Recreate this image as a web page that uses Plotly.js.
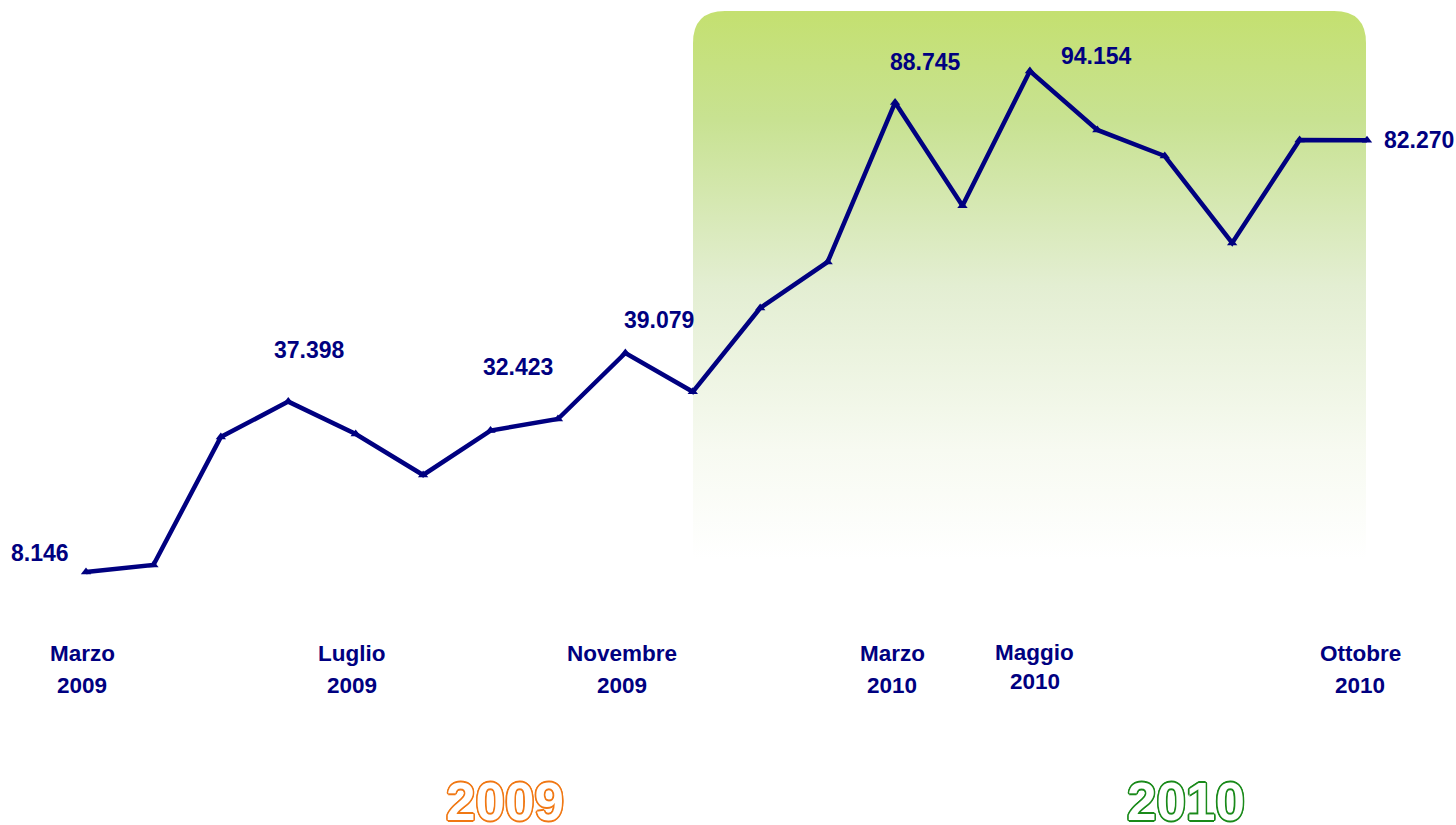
<!DOCTYPE html>
<html>
<head>
<meta charset="utf-8">
<script src="https://cdn.plot.ly/plotly-3.0.1.min.js"></script>
<style>html,body{margin:0;padding:0;background:#fff;}#chart{width:1456px;height:825px;}</style>
</head>
<body>
<div id="chart"></div>
<script>
// ---- data ----
const months = ["Mar 2009","Apr 2009","Mag 2009","Giu 2009","Lug 2009","Ago 2009","Set 2009","Ott 2009","Nov 2009","Dic 2009",
                "Gen 2010","Feb 2010","Mar 2010","Apr 2010","Mag 2010","Giu 2010","Lug 2010","Ago 2010","Set 2010","Ott 2010"];
const values = [8146, 9350, 31320, 37398, 31840, 24800, 32423, 34410, 45740, 39079,
                53470, 61370, 88745, 71010, 94154, 84030, 79560, 64630, 82310, 82270];
const labelledIdx = [0, 3, 6, 9, 12, 14, 19];
const tickIdx = [0, 4, 8, 12, 14, 19];
const tickMonth = ["Marzo", "Luglio", "Novembre", "Marzo", "Maggio", "Ottobre"];
const tickYear = ["2009", "2009", "2009", "2010", "2010", "2010"];
const yearLabels = ["2009", "2010"];

// ---- styling ----
const navy = "#000080";
const fontFam = "Liberation Sans, Arial, sans-serif";
const labelShift = {0:[-46,19], 3:[21,52], 6:[27,64], 9:[-34,72], 12:[30,41], 14:[67,15], 19:[52,0]};
const tickShift = [[-4,653,685],[-4,653,685],[-3,653,685],[-3,653,685],[5,652,681],[-7,653,685]];

function fmt(v){ return String(v).replace(/\B(?=(\d{3})+(?!\d))/g, "."); }

const annotations = [];
labelledIdx.forEach(i => {
  const s = labelShift[i];
  annotations.push({x: months[i], y: values[i], xref:'x', yref:'y', text: fmt(values[i]), showarrow:false,
    xanchor:'center', yanchor:'middle',
    xshift: s[0], yshift: s[1], font:{family: fontFam, size: 23, color: navy, weight: 'bold'}});
});
tickIdx.forEach((i, k) => {
  const s = tickShift[k];
  annotations.push({x: months[i], y: 1 - s[1]/825, xref:'x', yref:'paper', text: tickMonth[k], showarrow:false,
    xshift: s[0], xanchor:'center', yanchor:'middle', font:{family: fontFam, size: 22.5, color: navy, weight: 'bold'}});
  annotations.push({x: months[i], y: 1 - s[2]/825, xref:'x', yref:'paper', text: tickYear[k], showarrow:false,
    xshift: s[0], xanchor:'center', yanchor:'middle', font:{family: fontFam, size: 22.5, color: navy, weight: 'bold'}});
});
function outline(c){
  const d = 1.6;
  return [[d,0],[-d,0],[0,d],[0,-d],[1.2,1.2],[-1.2,-1.2],[1.2,-1.2],[-1.2,1.2]].map(p => p[0]+"px "+p[1]+"px 0 "+c).join(", ");
}
const yearCols = ["#f07814", "#1a8a1a"];
const yearX = [505/1456, 1186/1456];
yearLabels.forEach((t, k) => {
  annotations.push({x: yearX[k], y: 1 - 801/825, xref:'paper', yref:'paper', text: t, showarrow:false,
    xanchor:'center', yanchor:'middle',
    font:{family: fontFam, size: 53, color: '#ffffff', weight: 'bold', shadow: outline(yearCols[k])}});
});

const svg = '<svg xmlns="http://www.w3.org/2000/svg" width="673" height="549" viewBox="0 0 673 549" preserveAspectRatio="none">' +
  '<defs><linearGradient id="g" x1="0" y1="0" x2="0" y2="1">' +
  '<stop offset="0" stop-color="#c4e070"/><stop offset="0.2" stop-color="#c8e292"/>' +
  '<stop offset="0.5" stop-color="#e3eed2"/><stop offset="0.8" stop-color="#f7faf1"/><stop offset="1" stop-color="#ffffff"/>' +
  '</linearGradient></defs>' +
  '<path d="M0,549 V32 Q0,0 32,0 H641 Q673,0 673,32 V549 Z" fill="url(#g)"/></svg>';

const layout = {
  width: 1456, height: 825,
  margin: {l:0, r:0, t:0, b:0},
  paper_bgcolor: '#ffffff', plot_bgcolor: 'rgba(0,0,0,0)',
  showlegend: false,
  xaxis: {type:'category', categoryarray: months, range: [-1.2756, 20.32], visible: false, fixedrange: true},
  yaxis: {range: [-35287, 106343], visible: false, fixedrange: true},
  images: [{
    source: 'data:image/svg+xml;charset=utf-8,' + encodeURIComponent(svg),
    xref: 'paper', yref: 'paper', x: 693/1456, y: 1 - 11/825, sizex: 673/1456, sizey: 549/825,
    xanchor: 'left', yanchor: 'top', sizing: 'stretch', layer: 'below'
  }],
  annotations: annotations
};

const trace = {
  x: months, y: values, type: 'scatter', mode: 'lines+markers',
  line: {color: navy, width: 4.5},
  marker: {symbol: 'triangle-up', size: 9, color: navy},
  hoverinfo: 'x+y'
};

Plotly.newPlot('chart', [trace], layout, {displayModeBar: false, staticPlot: true});
</script>
</body>
</html>
